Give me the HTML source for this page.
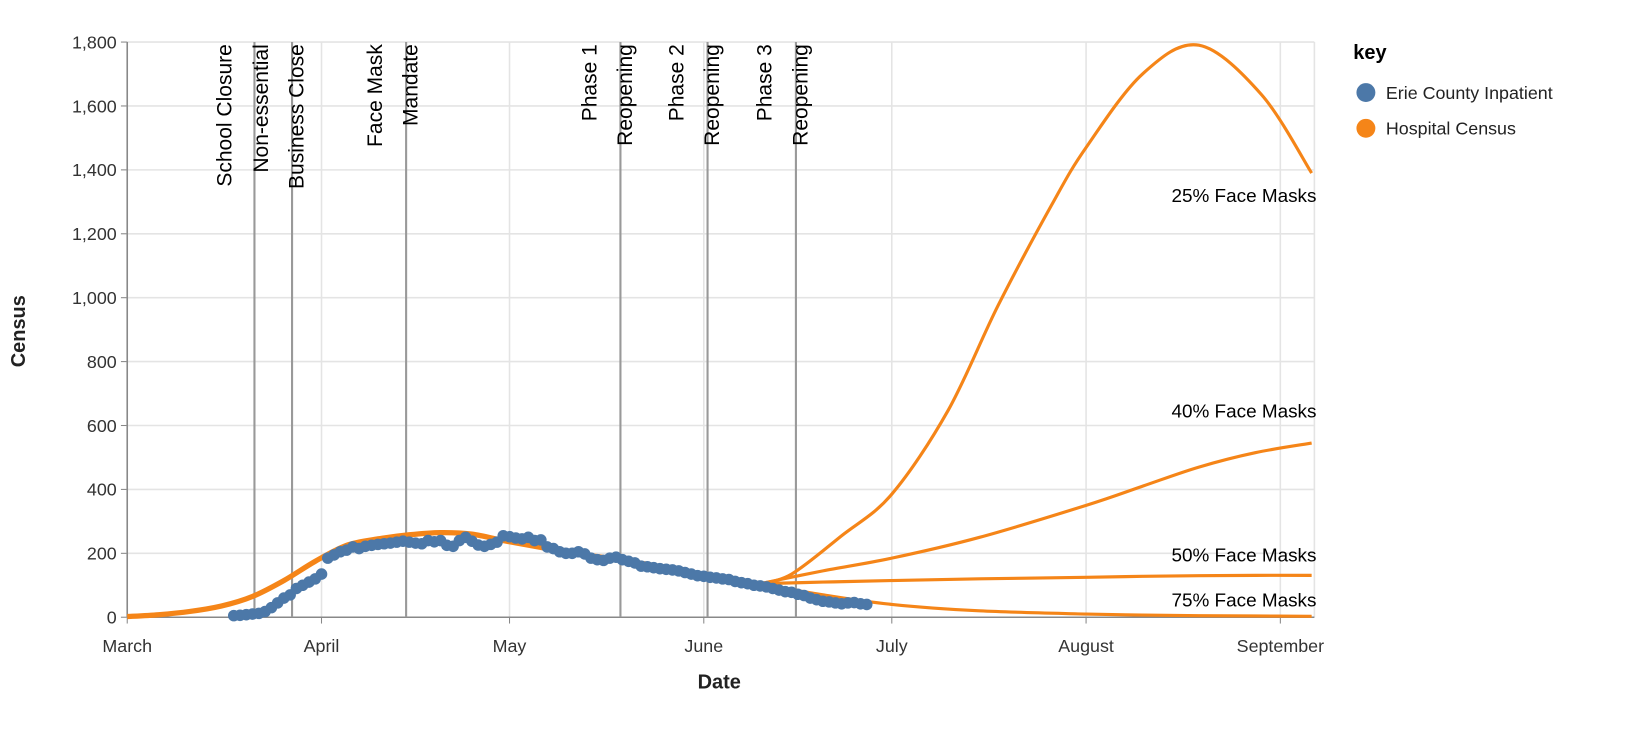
<!DOCTYPE html>
<html><head><meta charset="utf-8"><style>
body{margin:0;background:#fff;}
svg{display:block;font-family:"Liberation Sans",sans-serif;}
</style></head><body>
<svg id="chart" width="1649" height="739"><g id="root" transform="scale(1.0515)"></g></svg>
<script>
const monthLabels=["March","April","May","June","July","August","September"];
const monthDays=[0,31,61,92,122,153,184];
const yTicks=[0,200,400,600,800,1000,1200,1400,1600,1800];
const eventDays=[20.3,26.3,44.5,78.7,92.6,106.7];
const eventLabels=[["School Closure"],["Non-essential","Business Close"],["Face Mask","Mandate"],["Phase 1","Reopening"],["Phase 2","Reopening"],["Phase 3","Reopening"]];
const baseDays=[0,5,10,15,20,25,30,35,40,45,50,55,60,65,70,75,80,85,90,95,101];
const baseVals=[2,8,18,35,65,115,175,225,245,258,265,260,240,222,205,190,175,158,135,118,105];
const days25=[101,106,114,122,131,139,147.5,153,162,171,181,189];
const proj25=[105,135,255,385,648,977,1290,1470,1700,1790,1635,1390];
const projDays=[101,111,122,136,153,162,171,180,189];
const proj40=[105,145,185,250,350,410,470,515,545];
const proj50=[105,110,115,120,125,128,130,131,131];
const proj75=[105,70,40,20,10,7,5,4,3];
const projLabels=["25% Face Masks","40% Face Masks","50% Face Masks","75% Face Masks"];
const obsDays=[17,18,19,20,21,22,23,24,25,26,27,28,29,30,31,32,33,34,35,36,37,38,39,40,41,42,43,44,45,46,47,48,49,50,51,52,53,54,55,56,57,58,59,60,61,62,63,64,65,66,67,68,69,70,71,72,73,74,75,76,77,78,79,80,81,82,83,84,85,86,87,88,89,90,91,92,93,94,95,96,97,98,99,100,101,102,103,104,105,106,107,108,109,110,111,112,113,114,115,116,117,118];
const obsVals=[5,6,8,10,12,18,30,45,60,70,90,100,110,120,135,185,195,205,210,220,215,222,225,228,230,232,235,238,235,232,230,240,236,240,225,222,240,250,238,226,222,228,235,255,252,248,245,250,240,242,220,215,205,200,200,205,198,185,180,178,185,188,180,175,170,160,158,155,152,150,148,145,140,135,130,128,125,123,120,118,112,108,105,100,98,95,90,85,80,78,72,68,60,55,50,48,45,42,45,46,42,40];
const NS="http://www.w3.org/2000/svg";
const svg=document.getElementById('root');
const X0=121,PX=5.96,Y0=587,PY=547/1800,XR=1250;
const xS=d=>X0+d*PX, yS=v=>Y0-v*PY;
function el(t,a,p){const e=document.createElementNS(NS,t);for(const k in a)e.setAttribute(k,a[k]);(p||svg).appendChild(e);return e;}
yTicks.forEach(v=>{const g=el('line',{x1:X0,x2:XR,y1:yS(v),y2:yS(v),stroke:'#e4e4e4','stroke-width':1.5});


el('line',{x1:X0-6,x2:X0,y1:yS(v),y2:yS(v),stroke:'#888'});
const t=el('text',{x:X0-10,y:yS(v)+6,'text-anchor':'end','font-size':17,fill:'#333'});t.textContent=v.toLocaleString('en-US');

});
monthDays.forEach((d,i)=>{const g=el('line',{x1:xS(d),x2:xS(d),y1:yS(1800),y2:Y0,stroke:'#e4e4e4','stroke-width':1.5});


el('line',{x1:xS(d),x2:xS(d),y1:Y0,y2:Y0+6,stroke:'#888'});
const t=el('text',{x:xS(d),y:Y0+33,'text-anchor':'middle','font-size':17,fill:'#333'});t.textContent=monthLabels[i];

});
el('line',{x1:XR,x2:XR,y1:yS(1800),y2:Y0,stroke:'#e4e4e4','stroke-width':1.5});
el('line',{x1:X0,x2:XR,y1:Y0,y2:Y0,stroke:'#888','stroke-width':1.5});
el('line',{x1:X0,x2:X0,y1:yS(1800),y2:Y0,stroke:'#888','stroke-width':1.5});
eventDays.forEach((d,i)=>{const x=xS(d);const l=el('line',{x1:x,x2:x,y1:yS(1800),y2:Y0,stroke:'#999','stroke-width':2});


const labs=eventLabels[i];labs.forEach((s,j)=>{const off=labs.length===1?-28:(j===0?-29:5);const tx=x+off+6;
const t=el('text',{x:0,y:0,transform:`translate(${tx},42) rotate(-90)`,'text-anchor':'end','font-size':20,fill:'#000'});t.textContent=s;

});});
function smooth(ds,vs){let p='M'+xS(ds[0])+','+yS(vs[0]);for(let i=0;i<ds.length-1;i++){const p0=i?i-1:i,p3=i+2<ds.length?i+2:i+1;
const x1=xS(ds[i])+(xS(ds[i+1])-xS(ds[p0]))/6,y1=yS(vs[i])+(yS(vs[i+1])-yS(vs[p0]))/6,x2=xS(ds[i+1])-(xS(ds[p3])-xS(ds[i]))/6,y2=yS(vs[i+1])-(yS(vs[p3])-yS(vs[i]))/6;
p+=`C${x1.toFixed(1)},${y1.toFixed(1)} ${x2.toFixed(1)},${y2.toFixed(1)} ${xS(ds[i+1]).toFixed(1)},${yS(vs[i+1]).toFixed(1)}`;}return p;}
const bl=el('path',{d:smooth(baseDays,baseVals),fill:'none',stroke:'#f58518','stroke-width':5});


[[days25,proj25],[projDays,proj40],[projDays,proj50],[projDays,proj75]].forEach(a=>{const p=el('path',{d:smooth(a[0],a[1]),fill:'none',stroke:'#f58518','stroke-width':3});

});
obsDays.forEach((d,i)=>{const c=el('circle',{cx:xS(d),cy:yS(obsVals[i]),r:5.5,fill:'#4c78a8'});

});
const plY=[186,391,528,571];
projLabels.forEach((s,i)=>{const t=el('text',{x:1252,y:plY[i]+6,'text-anchor':'end','font-size':18,fill:'#000'});t.textContent=s;

});
const yt=el('text',{transform:'translate(24,315) rotate(-90)','text-anchor':'middle','font-size':19,'font-weight':'bold',fill:'#222'});yt.textContent='Census';


const xt=el('text',{x:684,y:655,'text-anchor':'middle','font-size':19,'font-weight':'bold',fill:'#222'});xt.textContent='Date';


const lk=el('text',{x:1287,y:56,'font-size':19,'font-weight':'bold',fill:'#000'});lk.textContent='key';


[['#4c78a8','Erie County Inpatient',88],['#f58518','Hospital Census',122]].forEach(a=>{
const c=el('circle',{cx:1299,cy:a[2],r:9,fill:a[0]});


const t=el('text',{x:1318,y:a[2]+6,'font-size':17,fill:'#222'});t.textContent=a[1];

});
</script>
</body></html>
